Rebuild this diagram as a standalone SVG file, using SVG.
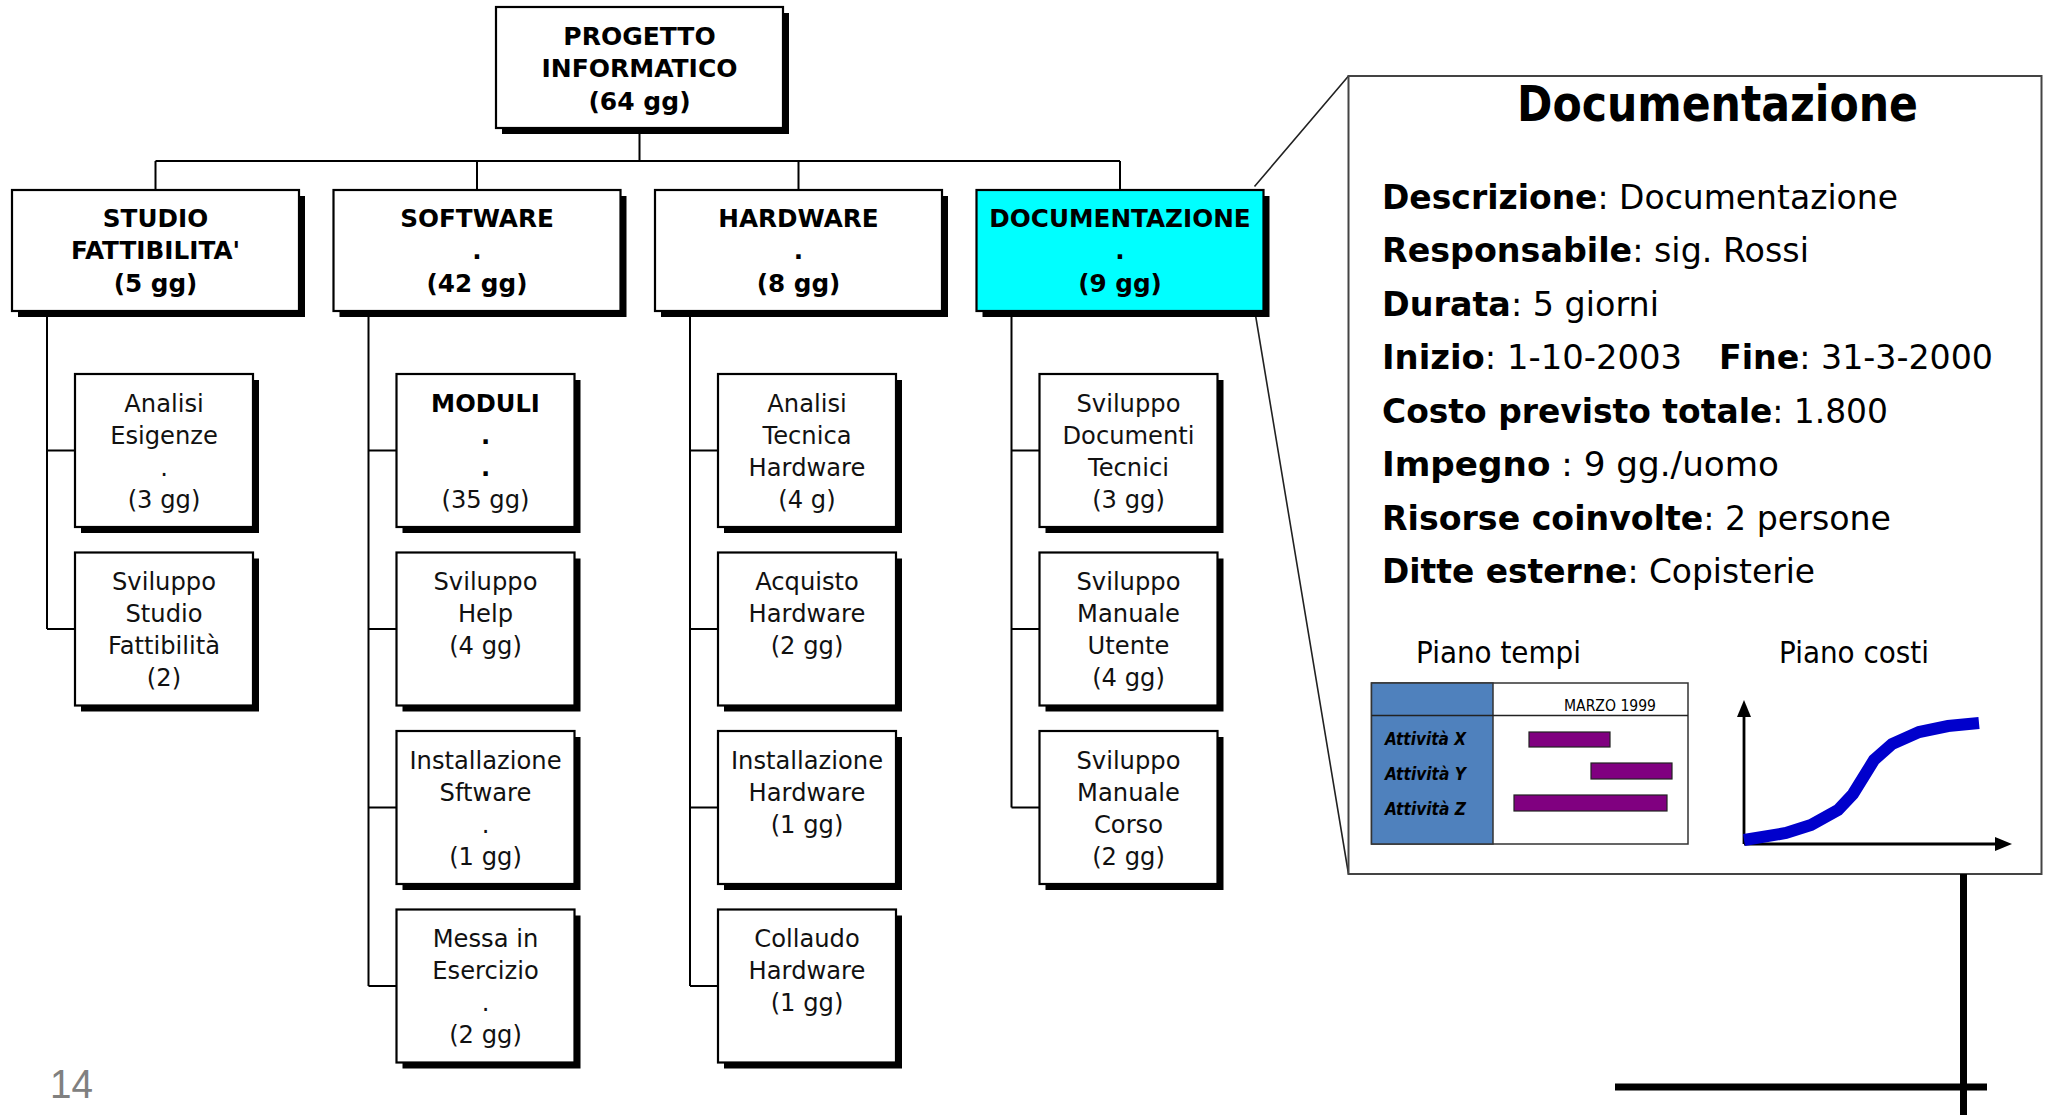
<svg xmlns="http://www.w3.org/2000/svg" width="2045" height="1115" viewBox="0 0 2045 1115">
  <style>
    .box { fill: #ffffff; stroke: #000000; stroke-width: 2.2; }
    .hl { fill: #00ffff; }
    .shadow { fill: #000000; }
    .t1 { font-family: "DejaVu Sans", Verdana, sans-serif; font-weight: bold; font-size: 25px; text-anchor: middle; fill: #000; }
    .t2 { font-family: "DejaVu Sans", Verdana, sans-serif; font-weight: bold; font-size: 24.7px; text-anchor: middle; fill: #000; }
    .t3 { font-family: "DejaVu Sans", Verdana, sans-serif; font-size: 24.2px; text-anchor: middle; fill: #111; }
    .t3b { font-weight: bold; fill: #000; }
    .wire { stroke: #000000; stroke-width: 2; fill: none; }
    .callout { stroke: #222222; stroke-width: 1.6; fill: none; }
    .panel { fill: #ffffff; stroke: #444444; stroke-width: 2; }
    .pt { font-family: "DejaVu Sans", Tahoma, sans-serif; font-size: 33px; fill: #000; }
    .title { font-size: 49px; font-weight: bold; }
    .sub { font-size: 30px; }
    .pb { font-weight: bold; }
    .small { font-family: "DejaVu Sans", Tahoma, sans-serif; fill: #000; }
    .bar { fill: #800080; stroke: #222222; stroke-width: 1.2; }
  </style>

  <!-- connectors of the work breakdown tree -->
  <g id="connectors">
    <path class="wire" d="M639.5 128 V161 M155.5 161 H1120 M155.5 161 V190 M477 161 V190 M798.5 161 V190 M1120 161 V190"/>
    <path class="wire" d="M47 311 V629 M47 450.5 H75 M47 629 H75"/>
    <path class="wire" d="M368.5 311 V986 M368.5 450.5 H396.5 M368.5 629 H396.5 M368.5 807.5 H396.5 M368.5 986 H396.5"/>
    <path class="wire" d="M690 311 V986 M690 450.5 H718 M690 629 H718 M690 807.5 H718 M690 986 H718"/>
    <path class="wire" d="M1011.5 311 V807.5 M1011.5 450.5 H1039.5 M1011.5 629 H1039.5 M1011.5 807.5 H1039.5"/>
    <path class="callout" d="M1254.5 186.5 L1348.5 76 M1253 300 L1348.5 874"/>
  </g>

  <!-- root -->
  <g id="node-progetto">
    <rect class="shadow" x="502" y="13" width="287" height="121"/>
    <rect class="box" x="496" y="7" width="287" height="121"/>
    <text class="t1" x="639.5" y="44.5">PROGETTO</text>
    <text class="t1" x="639.5" y="77">INFORMATICO</text>
    <text class="t1" x="639.5" y="109.5">(64 gg)</text>
  </g>

  <!-- second level -->
  <g id="node-studio">
    <rect class="shadow" x="18" y="196" width="287" height="121"/>
    <rect class="box" x="12" y="190" width="287" height="121"/>
    <text class="t2" x="155.5" y="226.5">STUDIO</text>
    <text class="t2" x="155.5" y="259">FATTIBILITA'</text>
    <text class="t2" x="155.5" y="292">(5 gg)</text>
  </g>
  <g id="node-software">
    <rect class="shadow" x="339.5" y="196" width="287" height="121"/>
    <rect class="box" x="333.5" y="190" width="287" height="121"/>
    <text class="t2" x="477" y="226.5">SOFTWARE</text>
    <text class="t2" x="477" y="259">.</text>
    <text class="t2" x="477" y="292">(42 gg)</text>
  </g>
  <g id="node-hardware">
    <rect class="shadow" x="661" y="196" width="287" height="121"/>
    <rect class="box" x="655" y="190" width="287" height="121"/>
    <text class="t2" x="798.5" y="226.5">HARDWARE</text>
    <text class="t2" x="798.5" y="259">.</text>
    <text class="t2" x="798.5" y="292">(8 gg)</text>
  </g>
  <g id="node-documentazione">
    <rect class="shadow" x="982.5" y="196" width="287" height="121"/>
    <rect class="box hl" x="976.5" y="190" width="287" height="121"/>
    <text class="t2" x="1120" y="226.5">DOCUMENTAZIONE</text>
    <text class="t2" x="1120" y="259">.</text>
    <text class="t2" x="1120" y="292">(9 gg)</text>
  </g>

  <!-- third level: studio di fattibilita -->
  <g id="node-analisi-esigenze">
    <rect class="shadow" x="81" y="380" width="178" height="153"/>
    <rect class="box" x="75" y="374" width="178" height="153"/>
    <text class="t3" x="164" y="411.5">Analisi</text>
    <text class="t3" x="164" y="443.5">Esigenze</text>
    <text class="t3" x="164" y="475.5">.</text>
    <text class="t3" x="164" y="507.5">(3 gg)</text>
  </g>
  <g id="node-sviluppo-studio">
    <rect class="shadow" x="81" y="558.5" width="178" height="153"/>
    <rect class="box" x="75" y="552.5" width="178" height="153"/>
    <text class="t3" x="164" y="590">Sviluppo</text>
    <text class="t3" x="164" y="622">Studio</text>
    <text class="t3" x="164" y="654">Fattibilità</text>
    <text class="t3" x="164" y="686">(2)</text>
  </g>

  <!-- third level: software -->
  <g id="node-moduli">
    <rect class="shadow" x="402.5" y="380" width="178" height="153"/>
    <rect class="box" x="396.5" y="374" width="178" height="153"/>
    <text class="t3 t3b" x="485.5" y="411.5">MODULI</text>
    <text class="t3 t3b" x="485.5" y="443.5">.</text>
    <text class="t3 t3b" x="485.5" y="475.5">.</text>
    <text class="t3" x="485.5" y="507.5">(35 gg)</text>
  </g>
  <g id="node-sviluppo-help">
    <rect class="shadow" x="402.5" y="558.5" width="178" height="153"/>
    <rect class="box" x="396.5" y="552.5" width="178" height="153"/>
    <text class="t3" x="485.5" y="590">Sviluppo</text>
    <text class="t3" x="485.5" y="622">Help</text>
    <text class="t3" x="485.5" y="654">(4 gg)</text>
  </g>
  <g id="node-installazione-software">
    <rect class="shadow" x="402.5" y="737" width="178" height="153"/>
    <rect class="box" x="396.5" y="731" width="178" height="153"/>
    <text class="t3" x="485.5" y="768.5">Installazione</text>
    <text class="t3" x="485.5" y="800.5">Sftware</text>
    <text class="t3" x="485.5" y="832.5">.</text>
    <text class="t3" x="485.5" y="864.5">(1 gg)</text>
  </g>
  <g id="node-messa-in-esercizio">
    <rect class="shadow" x="402.5" y="915.5" width="178" height="153"/>
    <rect class="box" x="396.5" y="909.5" width="178" height="153"/>
    <text class="t3" x="485.5" y="947">Messa in</text>
    <text class="t3" x="485.5" y="979">Esercizio</text>
    <text class="t3" x="485.5" y="1011">.</text>
    <text class="t3" x="485.5" y="1043">(2 gg)</text>
  </g>

  <!-- third level: hardware -->
  <g id="node-analisi-tecnica">
    <rect class="shadow" x="724" y="380" width="178" height="153"/>
    <rect class="box" x="718" y="374" width="178" height="153"/>
    <text class="t3" x="807" y="411.5">Analisi</text>
    <text class="t3" x="807" y="443.5">Tecnica</text>
    <text class="t3" x="807" y="475.5">Hardware</text>
    <text class="t3" x="807" y="507.5">(4 g)</text>
  </g>
  <g id="node-acquisto-hardware">
    <rect class="shadow" x="724" y="558.5" width="178" height="153"/>
    <rect class="box" x="718" y="552.5" width="178" height="153"/>
    <text class="t3" x="807" y="590">Acquisto</text>
    <text class="t3" x="807" y="622">Hardware</text>
    <text class="t3" x="807" y="654">(2 gg)</text>
  </g>
  <g id="node-installazione-hardware">
    <rect class="shadow" x="724" y="737" width="178" height="153"/>
    <rect class="box" x="718" y="731" width="178" height="153"/>
    <text class="t3" x="807" y="768.5">Installazione</text>
    <text class="t3" x="807" y="800.5">Hardware</text>
    <text class="t3" x="807" y="832.5">(1 gg)</text>
  </g>
  <g id="node-collaudo-hardware">
    <rect class="shadow" x="724" y="915.5" width="178" height="153"/>
    <rect class="box" x="718" y="909.5" width="178" height="153"/>
    <text class="t3" x="807" y="947">Collaudo</text>
    <text class="t3" x="807" y="979">Hardware</text>
    <text class="t3" x="807" y="1011">(1 gg)</text>
  </g>

  <!-- third level: documentazione -->
  <g id="node-documenti-tecnici">
    <rect class="shadow" x="1045.5" y="380" width="178" height="153"/>
    <rect class="box" x="1039.5" y="374" width="178" height="153"/>
    <text class="t3" x="1128.5" y="411.5">Sviluppo</text>
    <text class="t3" x="1128.5" y="443.5">Documenti</text>
    <text class="t3" x="1128.5" y="475.5">Tecnici</text>
    <text class="t3" x="1128.5" y="507.5">(3 gg)</text>
  </g>
  <g id="node-manuale-utente">
    <rect class="shadow" x="1045.5" y="558.5" width="178" height="153"/>
    <rect class="box" x="1039.5" y="552.5" width="178" height="153"/>
    <text class="t3" x="1128.5" y="590">Sviluppo</text>
    <text class="t3" x="1128.5" y="622">Manuale</text>
    <text class="t3" x="1128.5" y="654">Utente</text>
    <text class="t3" x="1128.5" y="686">(4 gg)</text>
  </g>
  <g id="node-manuale-corso">
    <rect class="shadow" x="1045.5" y="737" width="178" height="153"/>
    <rect class="box" x="1039.5" y="731" width="178" height="153"/>
    <text class="t3" x="1128.5" y="768.5">Sviluppo</text>
    <text class="t3" x="1128.5" y="800.5">Manuale</text>
    <text class="t3" x="1128.5" y="832.5">Corso</text>
    <text class="t3" x="1128.5" y="864.5">(2 gg)</text>
  </g>

  <!-- detail sheet of the highlighted work package -->
  <g id="node-scheda-documentazione">
    <rect class="panel" x="1348.5" y="76" width="693" height="798"/>
    <text class="pt title" x="1517" y="121" textLength="401" lengthAdjust="spacingAndGlyphs">Documentazione</text>

    <text class="pt" x="1382" y="208.5" textLength="516" lengthAdjust="spacingAndGlyphs"><tspan class="pb">Descrizione</tspan>: Documentazione</text>
    <text class="pt" x="1382" y="262" textLength="427" lengthAdjust="spacingAndGlyphs"><tspan class="pb">Responsabile</tspan>: sig. Rossi</text>
    <text class="pt" x="1382" y="315.5" textLength="277" lengthAdjust="spacingAndGlyphs"><tspan class="pb">Durata</tspan>: 5 giorni</text>
    <text class="pt" x="1382" y="369" textLength="300" lengthAdjust="spacingAndGlyphs"><tspan class="pb">Inizio</tspan>: 1-10-2003</text>
    <text class="pt" x="1719" y="369" textLength="274" lengthAdjust="spacingAndGlyphs"><tspan class="pb">Fine</tspan>: 31-3-2000</text>
    <text class="pt" x="1382" y="422.5" textLength="506" lengthAdjust="spacingAndGlyphs"><tspan class="pb">Costo previsto totale</tspan>: 1.800</text>
    <text class="pt" x="1382" y="476" textLength="397" lengthAdjust="spacingAndGlyphs"><tspan class="pb">Impegno</tspan> : 9 gg./uomo</text>
    <text class="pt" x="1382" y="529.5" textLength="509" lengthAdjust="spacingAndGlyphs"><tspan class="pb">Risorse coinvolte</tspan>: 2 persone</text>
    <text class="pt" x="1382" y="583" textLength="433" lengthAdjust="spacingAndGlyphs"><tspan class="pb">Ditte esterne</tspan>: Copisterie</text>

    <!-- time plan -->
    <text class="pt sub" x="1416" y="663" textLength="165" lengthAdjust="spacingAndGlyphs">Piano tempi</text>
    <rect x="1371.5" y="683" width="316.5" height="161" fill="#ffffff" stroke="#333333" stroke-width="1.5"/>
    <rect x="1371.5" y="683" width="121.5" height="161" fill="#4f81bd" stroke="#333333" stroke-width="1.5"/>
    <line x1="1371.5" y1="715.5" x2="1688" y2="715.5" stroke="#222222" stroke-width="1.5"/>
    <text class="small" x="1564" y="711" font-size="15" textLength="92" lengthAdjust="spacingAndGlyphs">MARZO 1999</text>
    <g class="small" font-size="17" font-weight="bold" font-style="italic">
      <text x="1385" y="745" textLength="81" lengthAdjust="spacingAndGlyphs">Attività X</text>
      <text x="1385" y="780" textLength="81" lengthAdjust="spacingAndGlyphs">Attività Y</text>
      <text x="1385" y="815" textLength="81" lengthAdjust="spacingAndGlyphs">Attività Z</text>
    </g>
    <rect class="bar" x="1529" y="732" width="81" height="15"/>
    <rect class="bar" x="1591" y="763" width="81" height="16"/>
    <rect class="bar" x="1514" y="795" width="153" height="16"/>

    <!-- cost plan -->
    <text class="pt sub" x="1779" y="663" textLength="150" lengthAdjust="spacingAndGlyphs">Piano costi</text>
    <path d="M1744 844 V714 M1744 844 H1998" stroke="#000000" stroke-width="2.8" fill="none"/>
    <polygon points="1744,700 1737,717 1751,717" fill="#000000"/>
    <polygon points="2012,844 1995,837 1995,851" fill="#000000"/>
    <polyline points="1744,840 1786,833 1811,825 1838,810 1853,794 1874,760 1892,744 1919,732 1948,726 1979,723" fill="none" stroke="#0000cc" stroke-width="12"/>
  </g>

  <!-- thick cross at the bottom right -->
  <g id="cross">
    <rect x="1960" y="874" width="7" height="241" fill="#000000"/>
    <rect x="1615" y="1083.5" width="372" height="7" fill="#000000"/>
  </g>

  <text x="50" y="1098" font-family="'Liberation Sans', Arial, sans-serif" font-size="41" fill="#808080" textLength="43" lengthAdjust="spacingAndGlyphs">14</text>
</svg>
